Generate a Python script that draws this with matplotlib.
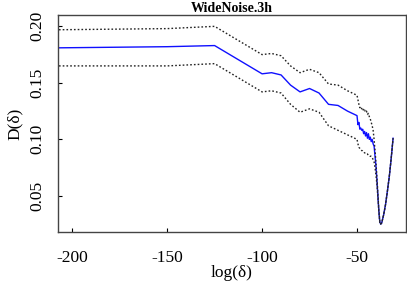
import matplotlib
matplotlib.use("Agg")
import matplotlib.pyplot as plt

plt.rcParams['font.family'] = ['Liberation Serif', 'DejaVu Serif']
plt.rcParams['axes.unicode_minus'] = False

x = [-207, -150, -125, -100, -95, -90, -85, -80, -75, -70, -65, -60, -55, -50,
     -49.5, -49, -48.5, -48, -47.5, -47, -46.5, -46, -45.5, -45, -44.5, -44,
     -43.5, -43, -42.5, -42, -41.5, -41, -40.5, -40, -39.5, -39, -38.5, -38,
     -37.5, -37, -36, -35, -34, -33, -32, -31]

d_mean = [0.181, 0.182, 0.183, 0.158, 0.159, 0.157, 0.148, 0.142, 0.145, 0.141,
          0.131, 0.130, 0.125, 0.121,
          0.113, 0.115, 0.109, 0.110, 0.108, 0.109, 0.105, 0.107, 0.103, 0.106,
          0.101, 0.105, 0.100, 0.102, 0.098, 0.100, 0.096, 0.094, 0.085, 0.076,
          0.064, 0.050, 0.037, 0.027, 0.025, 0.026, 0.033, 0.042, 0.054, 0.067,
          0.083, 0.101]

d_upper = [0.197, 0.198, 0.200, 0.175, 0.176, 0.174, 0.165, 0.159, 0.162, 0.159,
           0.149, 0.148, 0.143, 0.139,
           0.135, 0.131, 0.128, 0.129, 0.127, 0.128, 0.125, 0.126, 0.124, 0.125,
           0.122, 0.123, 0.120, 0.118, 0.115, 0.112, 0.108, 0.100, 0.090, 0.079,
           0.066, 0.052, 0.038, 0.028, 0.025, 0.026, 0.033, 0.042, 0.054, 0.067,
           0.083, 0.101]

d_lower = [0.165, 0.165, 0.167, 0.142, 0.143, 0.141, 0.131, 0.124, 0.127, 0.124,
           0.112, 0.108, 0.104, 0.100,
           0.096, 0.093, 0.092, 0.091, 0.090, 0.090, 0.089, 0.088, 0.088, 0.087,
           0.087, 0.086, 0.086, 0.085, 0.085, 0.084, 0.082, 0.080, 0.075, 0.068,
           0.060, 0.049, 0.036, 0.026, 0.025, 0.026, 0.033, 0.042, 0.054, 0.067,
           0.083, 0.101]

xticks = [-200, -150, -100, -50]
yticks = [0.05, 0.10, 0.15, 0.20]

fig = plt.figure(figsize=(4.07, 2.84), dpi=100)
ax = fig.add_axes([0.1425, 0.183, 0.855, 0.764])

ax.plot(x, d_mean, color='#1010ff', lw=1.0)
ax.plot(x, d_upper, color='#222222', lw=1.0, ls=(0, (1.2, 1.5)))
ax.plot(x, d_lower, color='#222222', lw=1.0, ls=(0, (1.2, 1.5)))

ax.set_xlim(-207.5, -24.2)
ax.set_ylim(0.018, 0.21)
ax.set_xticks(xticks)
ax.set_xticklabels([str(t) for t in xticks], fontsize=12.5)
ax.set_yticks(yticks)
ax.set_yticklabels(['%.2f' % t for t in yticks], fontsize=12.5, rotation=90, va='center')
ax.tick_params(direction='in', length=3, width=0.8)
ax.tick_params(axis='x', pad=13)
ax.tick_params(axis='y', pad=9)
for s in ax.spines.values():
    s.set_color('#444444')
    s.set_linewidth(1.0)

ax.set_xlabel('log(δ)', fontsize=12.5, labelpad=-1)
ax.set_ylabel('D(δ)', fontsize=12.5, labelpad=5)
ax.set_title('WideNoise.3h', fontsize=10, fontweight='bold', pad=2)

fig.savefig('out.png', dpi=100)
